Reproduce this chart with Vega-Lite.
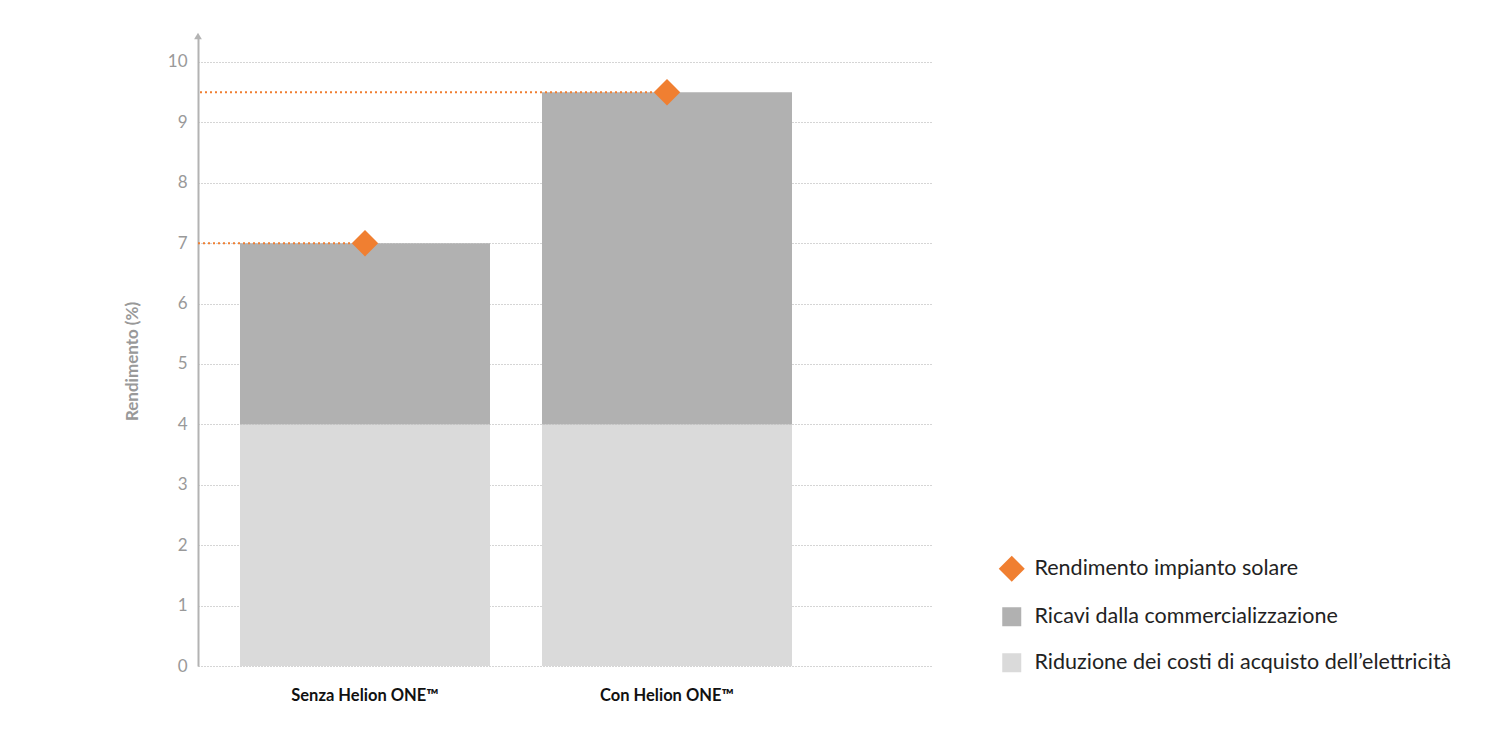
{
  "$schema": "https://vega.github.io/schema/vega-lite/v6.json",
  "autosize": "none",
  "width": 735,
  "height": 630,
  "padding": {"left": 198, "top": 36, "right": 567, "bottom": 84},
  "background": "white",
  "config": {
    "view": {"stroke": null},
    "font": "Lato"
  },
  "datasets": {
    "parts": [
      {"scenario": "Senza Helion ONE™", "component": "Riduzione dei costi di acquisto dell’elettricità", "rank": 1, "value": 4},
      {"scenario": "Senza Helion ONE™", "component": "Ricavi dalla commercializzazione", "rank": 2, "value": 3},
      {"scenario": "Con Helion ONE™", "component": "Riduzione dei costi di acquisto dell’elettricità", "rank": 1, "value": 4},
      {"scenario": "Con Helion ONE™", "component": "Ricavi dalla commercializzazione", "rank": 2, "value": 5.5}
    ],
    "totals": [
      {"scenario": "Senza Helion ONE™", "component": "Rendimento impianto solare", "total": 7},
      {"scenario": "Con Helion ONE™", "component": "Rendimento impianto solare", "total": 9.5}
    ],
    "top": [{"y": 10.43}]
  },
  "encoding": {
    "x": {
      "field": "scenario",
      "type": "nominal",
      "sort": ["Senza Helion ONE™", "Con Helion ONE™"],
      "scale": {"paddingInner": 0.1722, "paddingOuter": 0.303, "align": 0.2295},
      "axis": {
        "title": null,
        "domain": false,
        "ticks": false,
        "labelAngle": 0,
        "labelFontSize": 16.5,
        "labelFontWeight": "bold",
        "labelColor": "#111",
        "labelPadding": 21
      }
    }
  },
  "layer": [
    {
      "data": {"name": "parts"},
      "mark": {"type": "bar"},
      "encoding": {
        "y": {
          "field": "value",
          "type": "quantitative",
          "stack": "zero",
          "scale": {"domain": [0, 10.43], "nice": false},
          "axis": {
            "title": "Rendimento (%)",
            "titleFontSize": 17,
            "titleFontWeight": "bold",
            "titleColor": "#999",
            "titlePadding": 26,
            "titleY": 325,
            "values": [0, 1, 2, 3, 4, 5, 6, 7, 8, 9, 10],
            "format": "d",
            "labelFontSize": 17,
            "labelColor": "#999",
            "labelPadding": 11,
            "ticks": false,
            "domainColor": "#b3b3b3",
            "domainWidth": 2,
            "grid": true,
            "gridColor": "#aaa",
            "gridDash": [1, 2],
            "gridWidth": 1
          }
        },
        "color": {
          "field": "component",
          "type": "nominal",
          "scale": {
            "domain": ["Rendimento impianto solare", "Ricavi dalla commercializzazione", "Riduzione dei costi di acquisto dell’elettricità"],
            "range": ["#f07f31", "#b1b1b1", "#dadada"]
          },
          "legend": {
            "orient": "none",
            "legendX": 803,
            "legendY": 522,
            "title": null,
            "labelFontSize": 21.5,
            "labelColor": "#222",
            "labelLimit": 0,
            "labelOffset": 12,
            "rowPadding": 23,
            "symbolSize": 676,
            "symbolStrokeWidth": 0,
            "encode": {
              "symbols": {
                "update": {
                  "shape": {"signal": "datum.value === 'Rendimento impianto solare' ? 'diamond' : 'square'"},
                  "size": {"signal": "datum.value === 'Rendimento impianto solare' ? 676 : 361"}
                }
              }
            }
          }
        },
        "order": {"field": "rank", "type": "quantitative"}
      }
    },
    {
      "data": {"name": "totals"},
      "mark": {"type": "rule", "stroke": "#f07f31", "strokeWidth": 2, "strokeDash": [2, 3]},
      "encoding": {
        "x": {"field": "scenario", "type": "nominal", "bandPosition": 0.5},
        "x2": {"value": 0},
        "y": {"field": "total", "type": "quantitative"}
      }
    },
    {
      "data": {"name": "totals"},
      "mark": {"type": "point", "shape": "diamond", "filled": true, "opacity": 1, "size": 700},
      "encoding": {
        "x": {"field": "scenario", "type": "nominal", "bandPosition": 0.5},
        "y": {"field": "total", "type": "quantitative"},
        "color": {"field": "component", "type": "nominal"}
      }
    },
    {
      "data": {"name": "top"},
      "mark": {"type": "point", "shape": "triangle-up", "filled": true, "opacity": 1, "size": 60, "color": "#b3b3b3"},
      "encoding": {
        "x": {"value": 0},
        "y": {"field": "y", "type": "quantitative"}
      }
    }
  ]
}
